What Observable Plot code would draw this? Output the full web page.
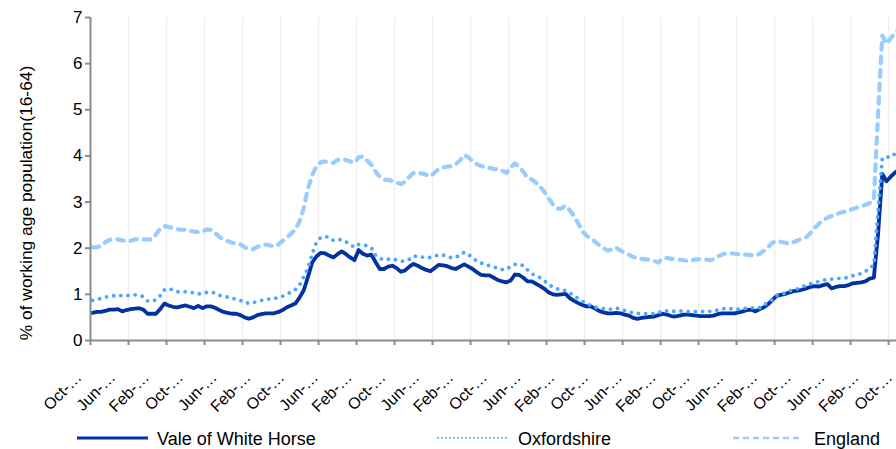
<!DOCTYPE html>
<html><head><meta charset="utf-8">
<script src="https://cdn.jsdelivr.net/npm/d3@7"></script>
<script src="https://cdn.jsdelivr.net/npm/@observablehq/plot@0.6"></script>
<style>
html,body{margin:0;padding:0;background:#fff;overflow:hidden;}
#wrap{position:relative;width:896px;height:449px;overflow:hidden;font-family:"Liberation Sans",Arial,sans-serif;}
#chart{position:absolute;left:0;top:0;}
#legend{position:absolute;left:0;top:418px;}
</style></head><body>
<div id="wrap"><div id="chart"></div><svg id="legend" width="896" height="31"></svg></div>
<script>
// Monthly claimant rate, Oct 2004 onwards (index 0 = Oct 2004)
const seriesNames = ["Vale of White Horse", "Oxfordshire", "England"];
const vale = [
0.60,0.62,0.62,0.64,0.67,0.67,0.68,0.63,0.66,0.68,
0.69,0.70,0.67,0.58,0.58,0.58,0.68,0.80,0.76,0.73,
0.72,0.74,0.76,0.73,0.70,0.75,0.70,0.74,0.74,0.71,
0.66,0.62,0.60,0.58,0.58,0.55,0.50,0.47,0.50,0.55,
0.57,0.59,0.59,0.59,0.62,0.66,0.72,0.76,0.80,0.93,
1.09,1.38,1.69,1.82,1.90,1.89,1.84,1.80,1.87,1.93,
1.87,1.80,1.74,1.96,1.88,1.84,1.86,1.70,1.55,1.55,
1.60,1.62,1.57,1.49,1.52,1.60,1.66,1.62,1.57,1.53,
1.50,1.57,1.64,1.63,1.61,1.57,1.55,1.60,1.65,1.60,
1.55,1.48,1.42,1.41,1.41,1.36,1.31,1.28,1.26,1.30,
1.43,1.42,1.36,1.28,1.28,1.23,1.18,1.12,1.04,1.00,
0.99,1.00,1.01,0.92,0.86,0.81,0.77,0.74,0.74,0.69,
0.64,0.61,0.59,0.59,0.60,0.59,0.56,0.54,0.49,0.47,
0.49,0.50,0.51,0.52,0.55,0.58,0.56,0.53,0.52,0.54,
0.56,0.56,0.55,0.54,0.53,0.53,0.53,0.54,0.57,0.59,
0.59,0.59,0.59,0.61,0.63,0.66,0.67,0.63,0.68,0.72,
0.79,0.88,0.97,0.99,1.01,1.04,1.07,1.08,1.10,1.13,
1.16,1.18,1.17,1.20,1.22,1.13,1.16,1.18,1.18,1.20,
1.24,1.25,1.26,1.28,1.34,1.36,2.30,3.61,3.45,3.55,
3.64,3.70];
const oxon = [
0.87,0.89,0.91,0.94,0.96,0.97,0.98,0.97,0.97,0.98,
0.99,0.98,0.95,0.86,0.85,0.88,0.97,1.10,1.12,1.10,
1.06,1.05,1.06,1.05,1.03,1.01,1.02,1.04,1.05,1.03,
0.98,0.96,0.94,0.91,0.90,0.87,0.82,0.81,0.82,0.85,
0.87,0.89,0.90,0.91,0.93,0.96,1.00,1.05,1.10,1.20,
1.38,1.57,1.88,2.13,2.23,2.25,2.24,2.17,2.18,2.19,
2.14,2.08,2.02,2.08,2.08,2.05,2.01,1.85,1.78,1.75,
1.76,1.77,1.74,1.72,1.72,1.76,1.83,1.82,1.81,1.79,
1.80,1.83,1.85,1.85,1.82,1.79,1.80,1.85,1.91,1.86,
1.80,1.72,1.68,1.64,1.62,1.60,1.55,1.54,1.54,1.60,
1.65,1.66,1.62,1.53,1.45,1.40,1.36,1.29,1.22,1.15,
1.12,1.10,1.08,1.03,0.97,0.91,0.85,0.80,0.76,0.72,
0.70,0.69,0.68,0.68,0.70,0.68,0.65,0.62,0.60,0.59,
0.58,0.58,0.58,0.58,0.60,0.64,0.64,0.62,0.64,0.64,
0.64,0.63,0.63,0.63,0.63,0.63,0.63,0.64,0.66,0.68,
0.70,0.69,0.67,0.68,0.69,0.70,0.71,0.70,0.71,0.77,
0.83,0.89,0.98,1.01,1.02,1.07,1.11,1.12,1.16,1.20,
1.23,1.25,1.28,1.31,1.32,1.33,1.34,1.35,1.35,1.37,
1.40,1.43,1.45,1.50,1.55,1.65,2.80,3.95,3.98,3.97,
4.05,4.08];
const england = [
2.02,2.02,2.05,2.13,2.18,2.20,2.19,2.17,2.15,2.16,
2.19,2.20,2.19,2.19,2.19,2.30,2.42,2.48,2.46,2.44,
2.41,2.40,2.40,2.38,2.36,2.35,2.36,2.41,2.40,2.33,
2.25,2.19,2.15,2.12,2.10,2.08,2.02,1.98,1.98,2.03,
2.06,2.08,2.06,2.04,2.08,2.16,2.23,2.32,2.40,2.58,
2.87,3.30,3.58,3.78,3.86,3.88,3.86,3.85,3.91,3.94,
3.91,3.88,3.85,3.97,3.99,3.90,3.81,3.66,3.55,3.48,
3.48,3.46,3.42,3.39,3.44,3.55,3.63,3.64,3.62,3.59,
3.56,3.64,3.72,3.75,3.77,3.78,3.82,3.90,4.02,3.97,
3.88,3.82,3.78,3.76,3.74,3.72,3.71,3.68,3.63,3.75,
3.84,3.76,3.66,3.52,3.49,3.42,3.33,3.22,3.08,2.95,
2.86,2.86,2.92,2.82,2.70,2.54,2.36,2.27,2.21,2.14,
2.06,2.00,1.95,1.98,2.01,1.95,1.90,1.86,1.81,1.79,
1.77,1.76,1.75,1.72,1.69,1.78,1.79,1.77,1.77,1.75,
1.74,1.72,1.74,1.76,1.76,1.76,1.74,1.76,1.82,1.86,
1.89,1.89,1.88,1.87,1.86,1.86,1.85,1.84,1.88,1.95,
2.03,2.12,2.16,2.14,2.12,2.10,2.13,2.17,2.21,2.24,
2.33,2.44,2.53,2.61,2.66,2.70,2.73,2.77,2.79,2.82,
2.85,2.88,2.91,2.94,2.98,3.05,4.90,6.61,6.43,6.55,
6.66,6.75];
const tickLabels = ["Oct-…","Jun-…","Feb-…","Oct-…","Jun-…","Feb-…","Oct-…","Jun-…","Feb-…",
  "Oct-…","Jun-…","Feb-…","Oct-…","Jun-…","Feb-…","Oct-…","Jun-…","Feb-…","Oct-…","Jun-…",
  "Feb-…","Oct-…","Jun-…","Feb-…","Oct-…"];
const yTicks = [0,1,2,3,4,5,6,7];
const yTitle = "% of working age population(16-64)";

const rows = vale.map((v, i) => ({i, vale: v, oxon: oxon[i], england: england[i]}));
const labelIdx = tickLabels.map((_, k) => k * 8);        // a label every 8 months
const tickIdx = d3.range(0, 22).map(k => 9 * k - 0.5);   // tick marks every 9 months
const gridIdx = tickIdx.slice(1);

const colors = {vale: "#0033a0", oxon: "#4da6ff", england: "#99ccff"};
const font = '"Liberation Sans", Arial, sans-serif';

const chart = Plot.plot({
  width: 905, height: 418,
  marginLeft: 90, marginRight: 0, marginTop: 17, marginBottom: 78,
  style: {fontFamily: font, color: "#000", background: "#fff", maxWidth: "none", overflow: "hidden"},
  x: {domain: [-0.5, 192.5]},
  y: {domain: [0, 7]},
  marks: [
    Plot.ruleX(gridIdx, {stroke: "#efefef", strokeWidth: 1.5}),
    Plot.line(rows, {x: "i", y: "vale", stroke: colors.vale, strokeWidth: 3.8, strokeLinejoin: "round"}),
    Plot.line(rows, {x: "i", y: "oxon", stroke: colors.oxon, strokeWidth: 3.9, strokeDasharray: "0 7.2", strokeLinecap: "round", strokeLinejoin: "round"}),
    Plot.line(rows, {x: "i", y: "england", stroke: colors.england, strokeWidth: 4.2, strokeDasharray: "6.5 7", strokeLinecap: "round", strokeLinejoin: "round"}),
    Plot.ruleX([-0.5], {stroke: "#8c8c8c", strokeWidth: 2}),
    Plot.ruleY([0], {stroke: "#8c8c8c", strokeWidth: 2}),
    Plot.axisY({ticks: yTicks, tickSize: 5, tickPadding: 3, fontSize: 17, stroke: "#8c8c8c", strokeWidth: 2, label: null, tickFormat: d => String(d)}),
    Plot.axisX({ticks: tickIdx, tickSize: 5, stroke: "#8c8c8c", strokeWidth: 2, tickFormat: () => "", label: null}),
    Plot.text(labelIdx, {x: d => d, frameAnchor: "bottom", text: (d, k) => tickLabels[k], rotate: -45,
      textAnchor: "end", lineAnchor: "bottom", dx: -10, dy: 38, fontSize: 16, fill: "#000"}),
    Plot.text([yTitle], {frameAnchor: "left", text: d => d, rotate: -90, textAnchor: "middle", lineAnchor: "bottom",
      dx: -59, dy: 24, fontSize: 17.4, fill: "#000"})
  ]
});
document.getElementById("chart").appendChild(chart);

// Legend below the chart
const lg = d3.select("#legend");
const items = [
  {name: seriesNames[0], c: colors.vale, x1: 77, x2: 148, tx: 157, w: 3, dash: null, cap: "butt"},
  {name: seriesNames[1], c: colors.oxon, x1: 438, x2: 507, tx: 518, w: 2, dash: "0 4", cap: "round"},
  {name: seriesNames[2], c: colors.england, x1: 733, x2: 802, tx: 814, w: 2.5, dash: "6 4", cap: "butt"}
];
for (const it of items) {
  lg.append("line").attr("x1", it.x1).attr("x2", it.x2).attr("y1", 20).attr("y2", 20)
    .attr("stroke", it.c).attr("stroke-width", it.w).attr("stroke-dasharray", it.dash).attr("stroke-linecap", it.cap);
  lg.append("text").attr("x", it.tx).attr("y", 26.5).attr("font-family", font).attr("font-size", 18)
    .attr("fill", "#000").text(it.name);
}
</script></body></html>
